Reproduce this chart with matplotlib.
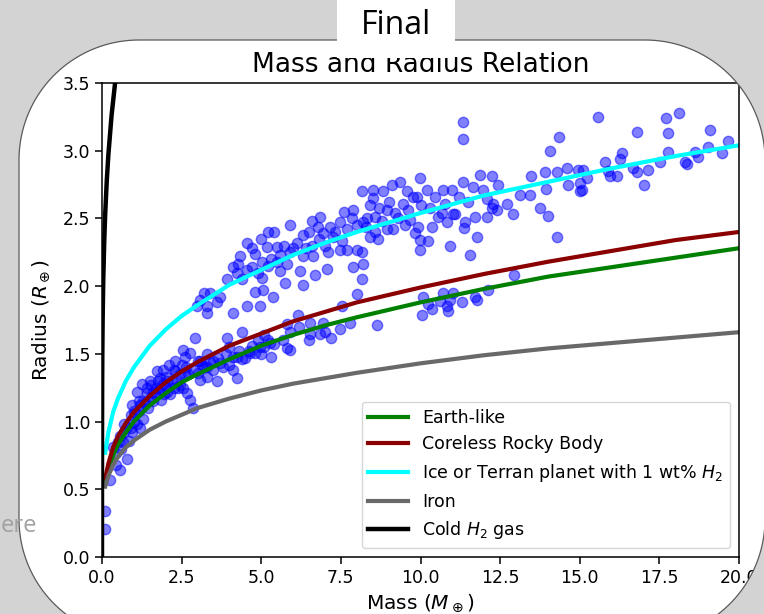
import numpy as np
import matplotlib.pyplot as plt
from matplotlib.path import Path
from matplotlib.patches import PathPatch, Rectangle
from matplotlib.transforms import IdentityTransform

# model curves, radius at these masses
mass_grid = [0.1, 0.2, 0.35, 0.5, 0.75, 1, 1.5, 2, 2.5, 3, 4, 5, 6, 7, 8, 10, 12, 14, 16, 18, 20]
r_earth = [0.53, 0.64, 0.75, 0.83, 0.92, 1.00, 1.12, 1.21, 1.29, 1.35, 1.46, 1.56, 1.64, 1.71,
           1.77, 1.88, 1.98, 2.07, 2.14, 2.21, 2.28]
r_coreless = [0.58, 0.69, 0.81, 0.89, 0.99, 1.07, 1.19, 1.29, 1.37, 1.44, 1.56, 1.65, 1.74, 1.81,
              1.88, 1.99, 2.09, 2.18, 2.26, 2.34, 2.40]
r_ice = [0.77, 0.92, 1.07, 1.17, 1.30, 1.40, 1.56, 1.68, 1.78, 1.86, 2.01, 2.12, 2.23, 2.32,
         2.40, 2.54, 2.67, 2.77, 2.87, 2.96, 3.04]
r_iron = [0.52, 0.60, 0.68, 0.74, 0.81, 0.86, 0.94, 1.00, 1.05, 1.10, 1.17, 1.23, 1.28, 1.32,
          1.36, 1.43, 1.49, 1.54, 1.58, 1.62, 1.66]
mass_h2 = [0, 0.0001, 0.001, 0.005, 0.01, 0.02, 0.04, 0.07, 0.1, 0.15, 0.2, 0.3, 0.42]
r_h2 = [0, 0.52, 0.88, 1.27, 1.49, 1.75, 2.05, 2.33, 2.53, 2.78, 2.97, 3.26, 3.52]

# observed planets, lower (rocky) group
mass_low = [0.09, 0.10, 0.25, 0.35, 0.45, 0.45, 0.57, 0.57, 0.60, 0.70,
            0.78, 0.78, 0.85, 0.90, 0.95, 1.05, 1.10, 1.10, 1.20, 1.25,
            1.30, 1.35, 1.41, 1.50, 1.55, 1.60, 1.70, 1.73, 1.83, 1.90,
            1.95, 2.00, 2.00, 2.10, 2.15, 2.20, 2.29, 2.30, 2.40, 2.45,
            2.50, 2.54, 2.60, 2.68, 2.76, 2.77, 2.86, 2.92, 3.00, 3.08,
            3.08, 3.20, 3.30, 3.30, 3.49, 3.50, 3.60, 3.70, 3.90, 3.92,
            4.00, 4.11, 4.24, 4.24, 4.40, 4.40, 4.60, 4.65, 4.80, 4.90,
            4.96, 5.10, 5.10, 5.27, 5.30, 5.40, 5.68, 5.80, 5.80, 5.90,
            5.90, 6.15, 6.20, 6.50, 6.53, 6.53, 6.84, 6.94, 7.00, 7.20,
            7.47, 7.79, 8.63, 10.05, 10.08, 10.24, 10.36, 10.61, 10.71, 10.83,
            10.86, 10.93, 11.02, 11.30, 11.71, 11.77, 12.12, 0.65, 1.00, 1.15,
            1.45, 1.65, 1.85, 2.05, 2.35, 2.55, 2.70, 1.20, 0.95, 1.75,
            2.25, 1.00, 1.30, 1.60, 1.80, 2.05, 2.25, 2.45, 2.65, 2.85,
            3.00, 3.15, 3.40, 3.65, 3.80, 4.10, 4.30, 4.50, 4.70, 5.00,
            5.20, 1.40, 1.90, 2.60, 3.30, 4.00, 0.50, 0.70, 0.90, 1.15,
            1.55]
radius_low = [0.21, 0.34, 0.57, 0.81, 0.68, 0.77, 0.64, 0.89, 0.80, 0.92,
              0.72, 0.96, 0.86, 1.05, 0.92, 1.06, 0.98, 1.22, 1.12, 1.28,
              1.02, 1.14, 1.21, 1.30, 1.18, 1.15, 1.25, 1.37, 1.32, 1.28,
              1.20, 1.26, 1.33, 1.42, 1.20, 1.30, 1.45, 1.37, 1.25, 1.27,
              1.42, 1.53, 1.35, 1.21, 1.51, 1.16, 1.10, 1.62, 1.45, 1.31,
              1.45, 1.40, 1.33, 1.40, 1.38, 1.45, 1.30, 1.43, 1.50, 1.62,
              1.42, 1.38, 1.32, 1.48, 1.66, 1.46, 1.52, 1.51, 1.51, 1.60,
              1.55, 1.55, 1.64, 1.58, 1.48, 1.57, 1.60, 1.54, 1.72, 1.66,
              1.53, 1.79, 1.70, 1.60, 1.73, 1.65, 1.65, 1.73, 1.66, 1.62,
              1.68, 1.73, 1.71, 1.79, 1.92, 1.87, 1.83, 1.89, 1.95, 1.85,
              1.82, 1.90, 1.95, 1.88, 1.92, 1.90, 1.97, 0.85, 1.00, 1.08,
              1.10, 1.20, 1.16, 1.22, 1.30, 1.25, 1.35, 0.95, 1.12, 1.30,
              1.38, 1.08, 1.15, 1.22, 1.24, 1.30, 1.25, 1.35, 1.40, 1.38,
              1.36, 1.42, 1.44, 1.47, 1.40, 1.48, 1.52, 1.47, 1.56, 1.50,
              1.60, 1.25, 1.38, 1.48, 1.50, 1.55, 0.85, 0.98, 0.95, 1.15,
              1.27]

# observed planets, upper (volatile rich) group
mass_high = [2.98, 3.08, 3.20, 3.30, 3.30, 3.39, 3.61, 3.70, 3.92, 4.11,
             4.11, 4.24, 4.27, 4.33, 4.55, 4.55, 4.55, 4.71, 4.80, 4.80,
             4.96, 5.00, 5.02, 5.02, 5.05, 5.18, 5.30, 5.37, 5.40, 5.49,
             5.59, 5.59, 5.70, 5.75, 5.81, 5.90, 6.00, 6.12, 6.22, 6.30,
             6.31, 6.31, 6.50, 6.60, 6.62, 6.69, 6.78, 6.84, 6.94, 7.06,
             7.10, 7.16, 7.25, 7.47, 7.47, 7.54, 7.54, 7.69, 7.85, 7.88,
             7.88, 8.01, 8.01, 8.01, 8.16, 8.16, 8.16, 8.19, 8.19, 8.32,
             8.41, 8.51, 8.51, 8.57, 8.57, 8.66, 8.82, 8.95, 8.95, 9.11,
             9.14, 9.20, 9.36, 9.45, 9.58, 9.67, 9.76, 9.83, 9.92, 9.98,
             9.98, 9.98, 10.20, 10.24, 10.36, 10.46, 10.55, 10.68, 10.71, 10.77,
             10.83, 10.93, 10.99, 11.02, 11.08, 11.20, 11.33, 11.33, 11.33, 11.37,
             11.40, 11.50, 11.55, 11.65, 11.71, 11.77, 11.87, 11.96, 12.09, 12.09,
             12.24, 12.24, 12.28, 12.40, 12.43, 12.72, 12.90, 12.94, 13.12, 13.44,
             13.47, 13.75, 13.91, 13.94, 14.00, 14.07, 14.29, 14.29, 14.35, 14.60,
             14.63, 14.95, 15.00, 15.00, 15.07, 15.10, 15.23, 15.57, 15.79, 15.89,
             15.95, 16.17, 16.26, 16.33, 16.67, 16.80, 16.80, 17.02, 17.14, 17.52,
             17.71, 17.77, 17.77, 18.12, 18.30, 18.37, 18.62, 18.71, 19.03, 19.09,
             19.47, 19.65, 4.40, 4.90, 5.20, 5.50, 5.90, 6.40, 6.80, 7.30,
             7.70, 8.30, 8.80, 9.30, 9.60, 10.00, 10.30, 7.00, 7.60, 8.40,
             9.00, 9.50, 6.60, 5.20, 4.70, 8.70, 9.90]
radius_high = [1.85, 1.90, 1.95, 1.80, 1.85, 1.95, 1.88, 1.92, 2.05, 1.80,
               2.14, 2.10, 2.16, 2.22, 2.12, 2.32, 1.85, 2.14, 1.96, 2.24,
               1.85, 2.35, 2.06, 2.18, 1.97, 2.29, 2.20, 1.92, 2.40, 2.29,
               2.11, 2.23, 2.30, 2.02, 2.16, 2.45, 2.28, 2.32, 2.11, 2.38,
               2.01, 2.22, 2.40, 2.30, 2.22, 2.08, 2.44, 2.51, 2.39, 2.13,
               2.25, 2.44, 2.36, 2.47, 2.27, 2.33, 1.85, 2.27, 2.50, 2.56,
               2.14, 2.45, 2.27, 1.94, 2.70, 2.25, 2.05, 2.47, 2.16, 2.50,
               2.36, 2.71, 2.65, 2.51, 2.40, 2.35, 2.70, 2.56, 2.42, 2.75,
               2.42, 2.54, 2.77, 2.61, 2.70, 2.49, 2.66, 2.39, 2.44, 2.80,
               2.34, 2.27, 2.71, 2.33, 2.44, 2.66, 2.51, 2.54, 2.71, 2.61,
               2.47, 2.30, 2.71, 2.53, 2.53, 2.66, 3.21, 3.09, 2.77, 2.43,
               2.47, 2.62, 2.23, 2.73, 2.51, 2.36, 2.82, 2.71, 2.51, 2.64,
               2.58, 2.81, 2.61, 2.56, 2.75, 2.61, 2.53, 2.08, 2.67, 2.67,
               2.81, 2.58, 2.84, 2.72, 2.52, 3.00, 2.84, 2.36, 3.10, 2.87,
               2.75, 2.86, 2.70, 2.76, 2.71, 2.86, 2.80, 3.25, 2.92, 2.85,
               2.81, 2.81, 2.94, 2.98, 2.87, 3.14, 2.84, 2.75, 2.86, 2.92,
               3.24, 3.13, 2.99, 3.28, 2.92, 2.90, 2.99, 2.95, 3.03, 3.15,
               2.98, 3.07, 2.05, 2.10, 2.15, 2.18, 2.25, 2.28, 2.35, 2.40,
               2.42, 2.44, 2.48, 2.50, 2.56, 2.60, 2.58, 2.30, 2.55, 2.60,
               2.62, 2.45, 2.48, 2.40, 2.28, 2.58, 2.66]

W, H = 764, 614
fig = plt.figure(figsize=(W / 100, H / 100), dpi=100)
fig.patch.set_facecolor('white')
ax = fig.add_axes([102 / W, 57 / H, 637 / W, 474 / H])

ax.scatter(mass_low + mass_high, radius_low + radius_high, s=55, color='b', alpha=0.5)

ax.plot(mass_grid, r_earth, color='green', lw=3, label='Earth-like')
ax.plot(mass_grid, r_coreless, color='darkred', lw=3, label='Coreless Rocky Body')
ax.plot(mass_grid, r_ice, color='cyan', lw=3, label='Ice or Terran planet with 1 wt% $H_2$')
ax.plot(mass_grid, r_iron, color='dimgray', lw=3, label='Iron')
ax.plot(mass_h2, r_h2, color='black', lw=3.2, label='Cold $H_2$ gas')

ax.set_xlim(0, 20)
ax.set_ylim(0, 3.5)
ax.set_xticks(np.arange(0, 20.1, 2.5))
ax.set_yticks(np.arange(0, 3.51, 0.5))
ax.tick_params(labelsize=12.5, length=5, width=1.1)
for sp in ax.spines.values():
    sp.set_linewidth(1.1)
ax.set_title('Mass and Radius Relation', fontsize=19, pad=8)
ax.set_xlabel(r'Mass ($M_\oplus$)', fontsize=14.5)
ax.set_ylabel(r'Radius ($R_\oplus$)', fontsize=14.5, labelpad=8)
ax.legend(loc='lower right', fontsize=12.5, handlelength=2.3)

# slide frame around the chart (pixel coords, y up)
def rounded_rect(x0, y0, x1, y1, r, n=40):
    pts = []
    for cx, cy, a0 in [(x1 - r, y1 - r, 90), (x1 - r, y0 + r, 0),
                       (x0 + r, y0 + r, -90), (x0 + r, y1 - r, 180)]:
        t = np.radians(np.linspace(a0, a0 - 90, n))
        pts += list(zip(cx + r * np.cos(t), cy + r * np.sin(t)))
    return pts

inner = rounded_rect(19, -25, 765, 574, 120)
outer = [(0, 0), (W, 0), (W, H), (0, H)]
verts = outer + [(0, 0)] + inner + [inner[0]]
codes = ([Path.MOVETO] + [Path.LINETO] * 3 + [Path.CLOSEPOLY]
         + [Path.MOVETO] + [Path.LINETO] * (len(inner) - 1) + [Path.CLOSEPOLY])
mask = PathPatch(Path(verts, codes), facecolor='#d3d3d3', edgecolor='none',
                 transform=IdentityTransform(), zorder=10)
fig.add_artist(mask)
frame = PathPatch(Path(inner + [inner[0]], closed=True), facecolor='none', edgecolor='#5a5a5a',
                  lw=0.9, transform=IdentityTransform(), zorder=11)
fig.add_artist(frame)

fig.add_artist(Rectangle((337, H - 58), 118, 58, facecolor='white', edgecolor='none',
                         transform=IdentityTransform(), zorder=12))
fig.text(396, H - 26, 'Final', transform=IdentityTransform(), ha='center', va='center',
         fontsize=23, family='Open Sans', zorder=13)
fig.text(1, H - 526, 'ere', transform=IdentityTransform(), ha='left', va='center',
         fontsize=17, family='Open Sans', color='#a0a0a0', zorder=13)

fig.savefig('out.png', dpi=100)
